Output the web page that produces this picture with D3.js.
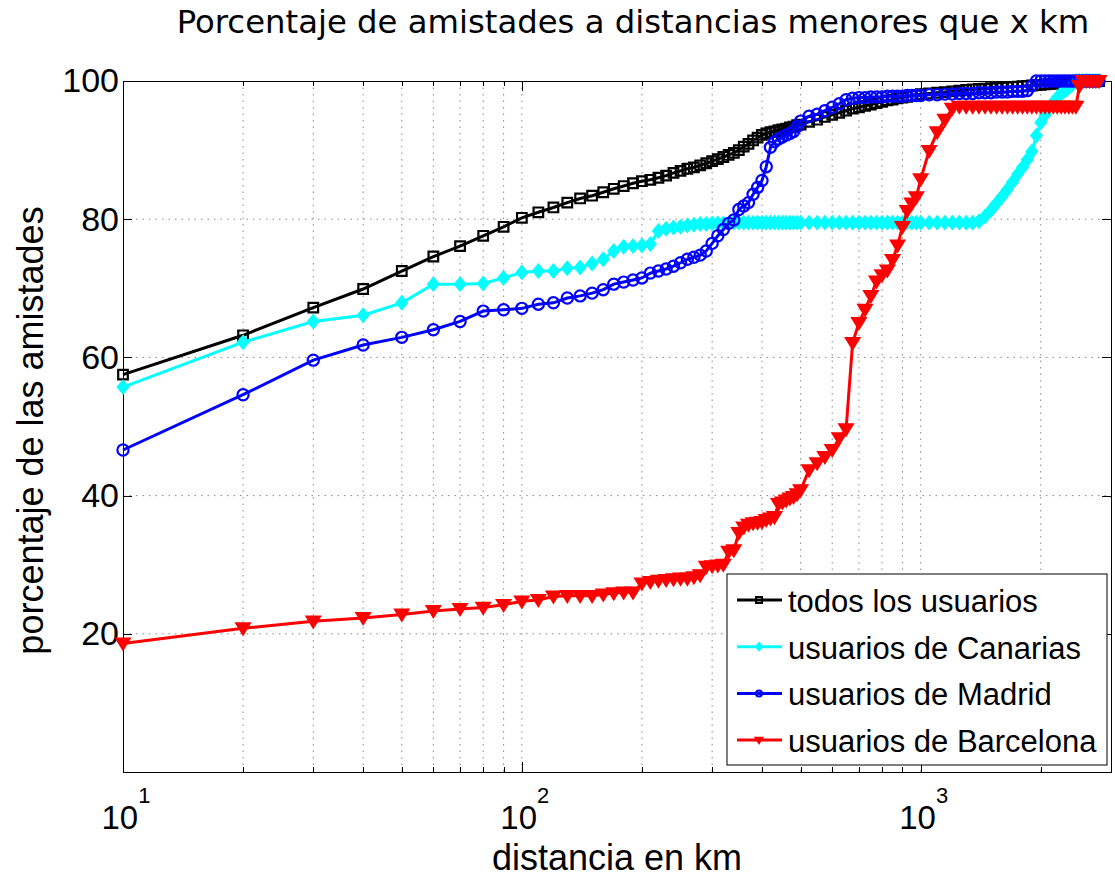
<!DOCTYPE html>
<html>
<head>
<meta charset="utf-8">
<script src="https://d3js.org/d3.v7.min.js"></script>
<style>
body, html {
  margin: 0;
  padding: 0;
  background: #fff;
}
svg text {
  font-family: "Liberation Sans", Arial, sans-serif;
  fill: #000;
}
.title {
  font-family: "DejaVu Sans", sans-serif;
}
.grid line {
  stroke: #888;
  stroke-width: 1;
  stroke-dasharray: 1.5, 5;
}
.axis path, .axis line {
  stroke: #000;
  stroke-width: 1;
  shape-rendering: crispEdges;
}
</style>
</head>
<body>
<div id="chart"></div>
<script>

// distancias (km) y porcentajes
var distancias = [10,20,30,40,50,60,70,80,90,100,
  110,120,130,140,150,160,170,180,190,200,
  210,220,230,240,250,260,270,280,290,300,
  310,320,330,340,350,360,370,380,390,400,
  410,420,430,440,450,460,470,480,490,500,
  525,550,575,600,625,650,675,700,725,750,
  775,800,825,850,875,900,925,950,975,1000,
  1050,1100,1150,1200,1250,1300,1350,1400,1450,1500,
  1550,1600,1650,1700,1750,1800,1850,1900,1950,2000,
  2050,2100,2150,2200,2250,2300,2350,2400,2450,2500,
  2550,2600,2650,2700,2750,2800];

var todos = [57.5,63.2,67.2,69.9,72.5,74.6,76.1,77.6,78.9,80.2,
  81.0,81.7,82.4,83.0,83.4,83.9,84.4,84.8,85.2,85.5,
  85.7,86.0,86.3,86.7,87.0,87.3,87.5,87.8,88.1,88.4,
  88.7,89.0,89.3,89.6,90.0,90.5,90.9,91.4,91.8,92.2,
  92.4,92.6,92.7,92.9,93.0,93.1,93.3,93.4,93.6,93.7,
  94.1,94.4,94.8,95.1,95.4,95.7,96.0,96.2,96.4,96.6,
  96.8,97.0,97.2,97.3,97.5,97.6,97.7,97.9,98.0,98.1,
  98.2,98.3,98.4,98.5,98.6,98.7,98.8,98.85,98.9,98.95,
  99.0,99.05,99.1,99.15,99.2,99.25,99.3,99.35,99.4,99.45,
  99.5,99.55,99.6,99.7,99.8,99.9,100,100,100,100,
  100,100,100,100,100,100];

var canarias = [55.7,62.2,65.2,66.1,67.9,70.6,70.6,70.7,71.5,72.3,
  72.5,72.5,72.9,73.0,73.6,74.2,75.4,76.0,76.1,76.2,
  76.4,78.3,78.6,78.8,78.9,79.1,79.2,79.3,79.3,79.4,
  79.4,79.4,79.4,79.5,79.5,79.5,79.5,79.5,79.5,79.5,
  79.5,79.5,79.5,79.5,79.5,79.5,79.5,79.5,79.5,79.5,
  79.5,79.5,79.5,79.5,79.5,79.5,79.5,79.5,79.5,79.5,
  79.5,79.5,79.5,79.5,79.5,79.5,79.5,79.5,79.5,79.5,
  79.5,79.5,79.5,79.5,79.5,79.5,79.5,79.7,80.4,81.3,
  82.3,83.3,84.3,85.4,86.5,87.5,88.6,89.8,92.1,94.0,
  95.1,96.1,96.9,97.6,98.2,98.6,99.0,99.5,100,100,
  100,100,100,100,100,100];

var madrid = [46.6,54.6,59.6,61.8,62.9,64.0,65.2,66.7,66.9,67.1,
  67.7,67.9,68.6,68.9,69.3,69.8,70.6,70.9,71.2,71.5,
  72.2,72.5,72.8,73.2,73.7,74.2,74.5,74.8,75.4,76.5,
  77.6,78.5,79.4,79.9,81.4,81.9,82.4,83.6,84.6,85.6,
  87.6,90.4,91.2,91.6,91.9,92.2,92.4,92.7,93.4,94.2,
  94.9,95.2,95.7,96.2,96.7,97.3,97.5,97.6,97.6,97.7,
  97.7,97.7,97.8,97.8,97.8,97.8,97.9,97.9,97.9,97.9,
  98.0,98.0,98.1,98.1,98.2,98.2,98.2,98.3,98.3,98.3,
  98.4,98.4,98.4,98.5,98.5,98.5,98.6,99.3,100,100,
  100,100,100,100,100,100,100,100,100,100,
  100,100,100,100,100,100];

var barcelona = [18.6,20.8,21.8,22.3,22.8,23.3,23.6,23.8,24.2,24.7,
  24.9,25.4,25.5,25.5,25.5,25.7,25.9,26.0,26.0,27.3,
  27.5,27.7,27.8,27.9,28.0,28.0,28.2,28.5,29.7,29.8,
  29.9,30.0,31.9,32.1,34.6,35.4,35.8,36.0,36.1,36.2,
  36.5,36.7,36.9,38.8,39.0,39.3,39.6,39.8,40.2,40.8,
  43.7,44.7,45.6,46.6,48.3,49.6,62.1,65.0,66.9,68.9,
  71.0,71.9,72.6,74.1,76.2,78.9,81.2,82.3,83.2,85.8,
  89.9,92.6,94.4,96.0,96.3,96.3,96.3,96.3,96.3,96.3,
  96.3,96.3,96.3,96.3,96.3,96.3,96.3,96.3,96.3,96.3,
  96.3,96.3,96.3,96.3,96.3,96.3,96.3,96.3,96.3,99.3,
  100,100,100,100,100,100];

var nombres = ["todos los usuarios", "usuarios de Canarias",
               "usuarios de Madrid", "usuarios de Barcelona"];
var colores = ["#000000", "#00ffff", "#0000ff", "#ff0000"];
var marcadores = ["square", "diamond", "circle", "triangle"];
var series = [todos, canarias, madrid, barcelona];

var xMajor = [10, 100, 1000];
var xMinor = [20,30,40,50,60,70,80,90,200,300,400,500,600,700,800,900,2000];
var yTicks = [20, 40, 60, 80, 100];

var width = 1115,
    height = 879,
    mLeft = 123, mRight = 1111,
    mTop = 81, mBottom = 772;

var svg = d3.select("#chart").append("svg")
  .attr("width", width)
  .attr("height", height);

var x = d3.scaleLog().domain([10, 3000]).range([mLeft, mRight]);
var y = d3.scaleLinear().domain([0, 100]).range([mBottom, mTop]);

// rejilla punteada
var grid = svg.append("g").attr("class", "grid");
grid.selectAll("line.v")
  .data(xMajor.slice(1).concat(xMinor))
  .enter().append("line")
  .attr("x1", d => x(d)).attr("x2", d => x(d))
  .attr("y1", mTop).attr("y2", mBottom);
grid.selectAll("line.h")
  .data([20, 40, 60, 80])
  .enter().append("line")
  .attr("x1", mLeft).attr("x2", mRight)
  .attr("y1", d => y(d)).attr("y2", d => y(d));

// ejes (marcas hacia dentro)
svg.append("g").attr("class", "axis")
  .attr("transform", "translate(0," + mBottom + ")")
  .call(d3.axisBottom(x).tickValues(xMajor).tickSize(-10).tickSizeOuter(0).tickFormat(""));
svg.append("g").attr("class", "axis")
  .attr("transform", "translate(0," + mBottom + ")")
  .call(d3.axisBottom(x).tickValues(xMinor).tickSize(-5).tickSizeOuter(0).tickFormat(""));
svg.append("g").attr("class", "axis")
  .attr("transform", "translate(0," + mTop + ")")
  .call(d3.axisTop(x).tickValues(xMajor).tickSize(-10).tickSizeOuter(0).tickFormat(""));
svg.append("g").attr("class", "axis")
  .attr("transform", "translate(0," + mTop + ")")
  .call(d3.axisTop(x).tickValues(xMinor).tickSize(-5).tickSizeOuter(0).tickFormat(""));

var yAxis = svg.append("g").attr("class", "axis")
  .attr("transform", "translate(" + mLeft + ",0)")
  .call(d3.axisLeft(y).tickValues(yTicks).tickSize(-9).tickSizeOuter(0).tickPadding(4));
yAxis.selectAll("text").style("font-size", "34px");
svg.append("g").attr("class", "axis")
  .attr("transform", "translate(" + mRight + ",0)")
  .call(d3.axisRight(y).tickValues(yTicks).tickSize(-9).tickSizeOuter(0).tickFormat(""));

// etiquetas 10^n
var xl = svg.append("g").selectAll("text")
  .data(xMajor)
  .enter().append("text")
  .attr("x", d => x(d) + 3)
  .attr("y", 829)
  .attr("text-anchor", "middle")
  .style("font-size", "33px");
xl.append("tspan").text("10");
xl.append("tspan")
  .attr("dy", -26)
  .style("font-size", "22px")
  .text(d => Math.round(Math.log10(d)));

// marcadores
function simbolo(tipo, s) {
  if (tipo == "square") return "M" + (-s) + "," + (-s) + "h" + (2 * s) + "v" + (2 * s) + "h" + (-2 * s) + "Z";
  if (tipo == "diamond") return "M0," + (-s * 1.2) + "L" + s + ",0L0," + (s * 1.2) + "L" + (-s) + ",0Z";
  if (tipo == "circle") return "M" + s + ",0A" + s + "," + s + " 0 1,1 " + (-s) + ",0A" + s + "," + s + " 0 1,1 " + s + ",0";
  return "M" + (-s * 1.1) + "," + (-s * 0.8) + "L" + (s * 1.1) + "," + (-s * 0.8) + "L0," + s + "Z";
}
var relleno = { square: false, diamond: true, circle: false, triangle: true };
var tamano = { square: 4.8, diamond: 5.2, circle: 5.6, triangle: 6 };

var line = d3.line()
  .x(d => x(d[0]))
  .y(d => y(d[1]));

series.forEach(function(vals, i) {
  var pts = distancias.map((d, j) => [d, vals[j]]);
  var g = svg.append("g");
  g.append("path")
    .datum(pts)
    .attr("d", line)
    .attr("fill", "none")
    .attr("stroke", colores[i])
    .attr("stroke-width", 3);
  var m = marcadores[i];
  g.selectAll("path.m")
    .data(pts)
    .enter().append("path")
    .attr("class", "m")
    .attr("transform", d => "translate(" + x(d[0]) + "," + y(d[1]) + ")")
    .attr("d", simbolo(m, tamano[m]))
    .attr("fill", relleno[m] ? colores[i] : "none")
    .attr("stroke", colores[i])
    .attr("stroke-width", 2.2);
});

// leyenda
var leg = svg.append("g");
leg.append("rect")
  .attr("x", 727).attr("y", 574)
  .attr("width", 380).attr("height", 191)
  .attr("fill", "#fff")
  .attr("stroke", "#000")
  .attr("stroke-width", 1);
nombres.forEach(function(n, i) {
  var ly = 600 + i * 46.7;
  leg.append("line")
    .attr("x1", 737).attr("x2", 782)
    .attr("y1", ly).attr("y2", ly)
    .attr("stroke", colores[i])
    .attr("stroke-width", 3);
  var m = marcadores[i];
  leg.append("path")
    .attr("transform", "translate(759," + ly + ")")
    .attr("d", simbolo(m, 3))
    .attr("fill", relleno[m] ? colores[i] : "none")
    .attr("stroke", colores[i])
    .attr("stroke-width", 2);
  leg.append("text")
    .attr("x", 788).attr("y", ly + 12)
    .style("font-size", "31px")
    .text(n);
});

// titulos
svg.append("text")
  .attr("class", "title")
  .attr("x", 633).attr("y", 33)
  .attr("text-anchor", "middle")
  .style("font-size", "32.3px")
  .text("Porcentaje de amistades a distancias menores que x km");

svg.append("text")
  .attr("x", (mLeft + mRight) / 2).attr("y", 870)
  .attr("text-anchor", "middle")
  .style("font-size", "36px")
  .text("distancia en km");

svg.append("text")
  .attr("transform", "translate(43," + ((mTop + mBottom) / 2 + 4) + ") rotate(-90)")
  .attr("text-anchor", "middle")
  .style("font-size", "36px")
  .text("porcentaje de las amistades");

</script>
</body>
</html>
